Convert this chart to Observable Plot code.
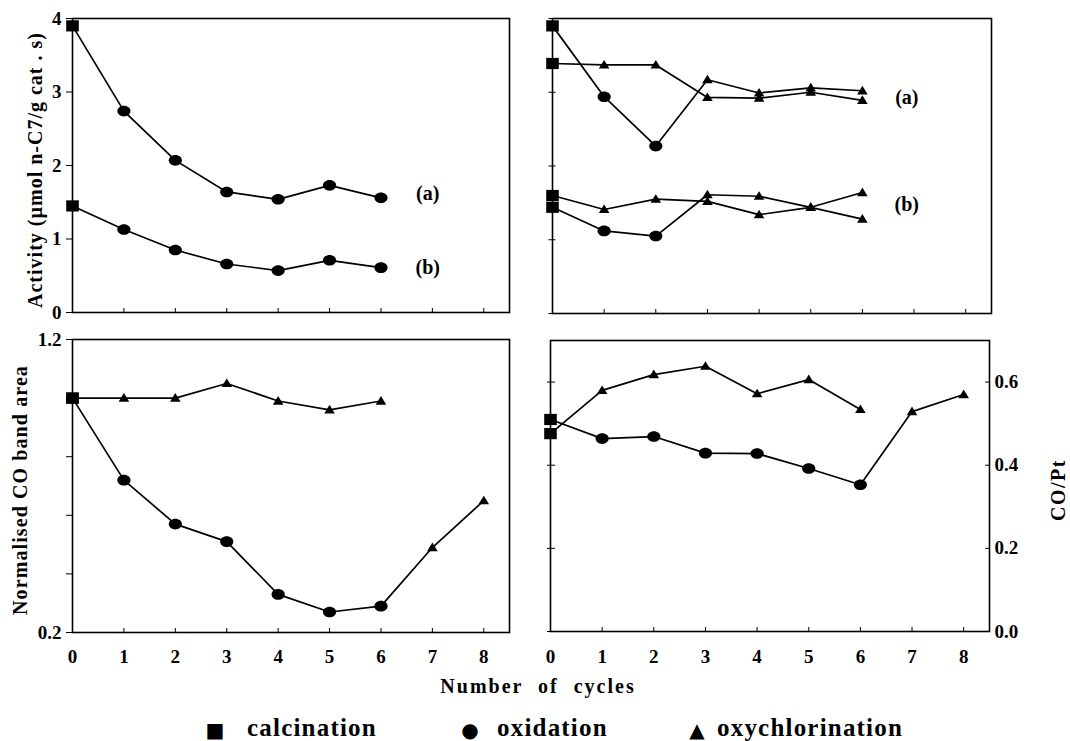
<!DOCTYPE html>
<html><head><meta charset="utf-8">
<script src="https://cdn.jsdelivr.net/npm/d3@7"></script>
<script src="https://cdn.jsdelivr.net/npm/@observablehq/plot@0.6"></script>
<style>
html,body{margin:0;padding:0;background:#fff;}
#wrap{position:relative;width:1070px;height:741px;overflow:hidden;font-family:"Liberation Serif","Times New Roman",serif;font-weight:bold;color:#000;}
.panel{position:absolute;}
.lbl{position:absolute;white-space:nowrap;line-height:1;}
.rot{transform:translate(-50%,-50%) rotate(-90deg);}
</style></head><body><div id="wrap"></div>
<script>
// ---------- data ----------
const cycles = [0, 1, 2, 3, 4, 5, 6, 7, 8];
const treatments = ["calcination", "oxidation", "oxychlorination"];

// Top-left: activity, calcination followed by oxidation cycles
const actOxA = [3.90, 2.74, 2.07, 1.64, 1.54, 1.73, 1.56];
const actOxB = [1.45, 1.13, 0.85, 0.66, 0.57, 0.71, 0.61];
const actOxTreat = ["calcination", "oxidation", "oxidation", "oxidation", "oxidation", "oxidation", "oxidation"];

// Top-right: activity, mixed sequence and oxychlorination-only sequence
const actMixA = [3.90, 2.94, 2.27, 3.17, 2.99, 3.06, 3.02];
const actOxyA = [3.39, 3.37, 3.37, 2.93, 2.92, 3.00, 2.89];
const actMixB = [1.44, 1.12, 1.05, 1.61, 1.59, 1.44, 1.28];
const actOxyB = [1.60, 1.41, 1.55, 1.52, 1.34, 1.44, 1.64];
const mixTreat = ["calcination", "oxidation", "oxidation", "oxychlorination", "oxychlorination", "oxychlorination", "oxychlorination"];
const oxyTreat = ["calcination", "oxychlorination", "oxychlorination", "oxychlorination", "oxychlorination", "oxychlorination", "oxychlorination"];

// Bottom-left: normalised CO band area
const coBandOxy = [1.00, 1.00, 1.00, 1.05, 0.99, 0.96, 0.99];
const coBandOx = [1.00, 0.72, 0.57, 0.51, 0.33, 0.27, 0.29, 0.49, 0.65];
const longTreat = ["calcination", "oxidation", "oxidation", "oxidation", "oxidation", "oxidation", "oxidation", "oxychlorination", "oxychlorination"];

// Bottom-right: CO/Pt
const coPtOxy = [0.476, 0.580, 0.618, 0.638, 0.572, 0.606, 0.534];
const coPtOx = [0.510, 0.464, 0.469, 0.429, 0.428, 0.392, 0.353, 0.529, 0.570];

// Tick values
const xTicks = [0, 1, 2, 3, 4, 5, 6, 7, 8];
const actTicks = [0, 1, 2, 3, 4];
const bandTicks = [0.2, 0.4, 0.6, 0.8, 1.0, 1.2];
const bandLabels = ["0.2", "", "", "", "", "1.2"];
const coPtTicks = [0, 0.2, 0.4, 0.6];
const coPtLabels = ["0.0", "0.2", "0.4", "0.6"];

// Series labels
const seriesLabels = ["(a)", "(b)"];
const tlLabelX = [6.91, 6.91], tlLabelY = [1.62, 0.61];
const trLabelX = [6.86, 6.86], trLabelY = [2.93, 1.48];

// ---------- symbols ----------
const symSquare = {draw(c) { c.moveTo(-6.3, -5.6); c.lineTo(6.3, -5.6); c.lineTo(6.3, 5.6); c.lineTo(-6.3, 5.6); c.closePath(); }};
const symEllipse = {draw(c) {
  const rx = 6.6, ry = 5.3, k = 0.5523;
  c.moveTo(rx, 0);
  c.bezierCurveTo(rx, ry * k, rx * k, ry, 0, ry);
  c.bezierCurveTo(-rx * k, ry, -rx, ry * k, -rx, 0);
  c.bezierCurveTo(-rx, -ry * k, -rx * k, -ry, 0, -ry);
  c.bezierCurveTo(rx * k, -ry, rx, -ry * k, rx, 0);
  c.closePath();
}};
const symTri = {draw(c) { c.moveTo(0, -5); c.lineTo(5.3, 3.6); c.lineTo(-5.3, 3.6); c.closePath(); }};
const symbolOf = {calcination: symSquare, oxidation: symEllipse, oxychlorination: symTri};

function rows(values, treat) {
  return values.map((v, i) => ({x: cycles[i], y: v, t: treat[i]}));
}
function seriesMarks(data) {
  const marks = [Plot.line(data, {x: "x", y: "y", stroke: "black", strokeWidth: 1.7})];
  for (const t of treatments) {
    marks.push(Plot.dot(data.filter(d => d.t === t), {x: "x", y: "y", symbol: symbolOf[t], fill: "black", stroke: "none"}));
  }
  return marks;
}

const wrap = document.getElementById("wrap");
const svgStyle = "background: transparent; font-family: 'Liberation Serif', 'Times New Roman', serif; font-size: 19px; font-weight: bold; overflow: visible;";

function place(svg, left, top) {
  const d = document.createElement("div");
  d.className = "panel";
  d.style.left = left + "px";
  d.style.top = top + "px";
  d.appendChild(svg);
  wrap.appendChild(d);
}
const noLabel = {label: null};

// ---------- top-left ----------
place(Plot.plot({
  width: 540, height: 330,
  marginLeft: 72, marginRight: 31, marginTop: 18, marginBottom: 18,
  style: svgStyle,
  x: {domain: [0, 8.5], label: null},
  y: {domain: [0, 4], label: null},
  marks: [
    Plot.frame({stroke: "black", strokeWidth: 1.6}),
    Plot.axisX(xTicks, {anchor: "bottom", tickSize: 4, dy: -4, tickFormat: () => "", ...noLabel}),
    Plot.axisY(actTicks, {anchor: "left", tickSize: 6, tickPadding: 5, tickFormat: d => String(d), ...noLabel}),
    ...seriesMarks(rows(actOxA, actOxTreat)),
    ...seriesMarks(rows(actOxB, actOxTreat)),
    Plot.text(seriesLabels, {x: (d, i) => tlLabelX[i], y: (d, i) => tlLabelY[i], text: d => d, fontSize: 20, fontWeight: "bold"})
  ]
}), 0, 0);

// ---------- top-right ----------
place(Plot.plot({
  width: 540, height: 330,
  marginLeft: 22, marginRight: 79, marginTop: 18, marginBottom: 17,
  style: svgStyle,
  x: {domain: [0, 8.5], label: null},
  y: {domain: [0, 4], label: null},
  marks: [
    Plot.frame({stroke: "black", strokeWidth: 1.6}),
    Plot.axisX(xTicks, {anchor: "bottom", tickSize: 4, dy: -4, tickFormat: () => "", ...noLabel}),
    Plot.axisY(actTicks, {anchor: "left", tickSize: 7, dx: 3.5, tickFormat: () => "", ...noLabel}),
    ...seriesMarks(rows(actMixA, mixTreat)),
    ...seriesMarks(rows(actOxyA, oxyTreat)),
    ...seriesMarks(rows(actMixB, mixTreat)),
    ...seriesMarks(rows(actOxyB, oxyTreat)),
    Plot.text(seriesLabels, {x: (d, i) => trLabelX[i], y: (d, i) => trLabelY[i], text: d => d, fontSize: 20, fontWeight: "bold"})
  ]
}), 530, 0);

// ---------- bottom-left ----------
place(Plot.plot({
  width: 540, height: 360,
  marginLeft: 72, marginRight: 31, marginTop: 19, marginBottom: 48,
  style: svgStyle,
  x: {domain: [0, 8.5], label: null},
  y: {domain: [0.2, 1.2], label: null},
  marks: [
    Plot.frame({stroke: "black", strokeWidth: 1.6}),
    Plot.axisX(xTicks, {anchor: "bottom", tickSize: 4, dy: -4, tickFormat: () => "", ...noLabel}),
    Plot.axisX(xTicks, {anchor: "bottom", tickSize: 0, tickPadding: 17, tickFormat: d => String(d), ...noLabel}),
    Plot.axisY(bandTicks, {anchor: "left", tickSize: 6, tickPadding: 5, tickFormat: (d, i) => bandLabels[i], ...noLabel}),
    ...seriesMarks(rows(coBandOxy, oxyTreat)),
    ...seriesMarks(rows(coBandOx, longTreat))
  ]
}), 0, 320);

// ---------- bottom-right ----------
place(Plot.plot({
  width: 540, height: 360,
  marginLeft: 20, marginRight: 81, marginTop: 20, marginBottom: 49,
  style: svgStyle,
  x: {domain: [0, 8.5], label: null},
  y: {domain: [0, 0.7], label: null},
  marks: [
    Plot.frame({stroke: "black", strokeWidth: 1.6}),
    Plot.axisX(xTicks, {anchor: "bottom", tickSize: 4, dy: -4, tickFormat: () => "", ...noLabel}),
    Plot.axisX(xTicks, {anchor: "bottom", tickSize: 0, tickPadding: 18, tickFormat: d => String(d), ...noLabel}),
    Plot.axisY(coPtTicks, {anchor: "left", tickSize: 8, dx: 5, tickFormat: () => "", ...noLabel}),
    Plot.axisY(coPtTicks, {anchor: "right", tickSize: 5, dx: -5, tickFormat: () => "", ...noLabel}),
    Plot.axisY(coPtTicks, {anchor: "right", tickSize: 0, tickPadding: 5, tickFormat: (d, i) => coPtLabels[i], ...noLabel}),
    ...seriesMarks(rows(coPtOxy, oxyTreat)),
    ...seriesMarks(rows(coPtOx, longTreat))
  ]
}), 530, 320);

// ---------- text ----------
function label(text, x, y, css, rotate) {
  const d = document.createElement("div");
  d.className = "lbl" + (rotate ? " rot" : "");
  d.textContent = text;
  d.style.left = x + "px";
  d.style.top = y + "px";
  Object.assign(d.style, css);
  if (!rotate) d.style.transform = "translate(-50%,-50%)";
  wrap.appendChild(d);
}
label("Activity (\u00b5mol n-C7/g cat . s)", 35, 170, {fontSize: "20px", letterSpacing: "1px"}, true);
label("Normalised CO band area", 20, 490, {fontSize: "20px", letterSpacing: "1.1px"}, true);
label("CO/Pt", 1058, 490, {fontSize: "20px", letterSpacing: "1.5px"}, true);
label("Number of cycles", 538, 686, {fontSize: "20px", letterSpacing: "2px", wordSpacing: "8px"}, false);

const legendGlyphs = ["\u25a0", "\u25cf", "\u25b2"];
const legendGlyphX = [215, 470, 697];
const legendTextX = [247, 497, 717];
treatments.forEach((t, i) => {
  const g = document.createElement("div");
  g.className = "lbl";
  g.textContent = legendGlyphs[i];
  g.style.cssText += `left:${legendGlyphX[i]}px;top:730px;transform:translate(-50%,-50%);font-family:'DejaVu Sans',sans-serif;font-size:20px;`;
  wrap.appendChild(g);
  const s = document.createElement("div");
  s.className = "lbl";
  s.textContent = t;
  s.style.cssText += `left:${legendTextX[i]}px;top:727px;transform:translate(0,-50%);font-size:25px;letter-spacing:1.2px;`;
  wrap.appendChild(s);
});
</script></body></html>
